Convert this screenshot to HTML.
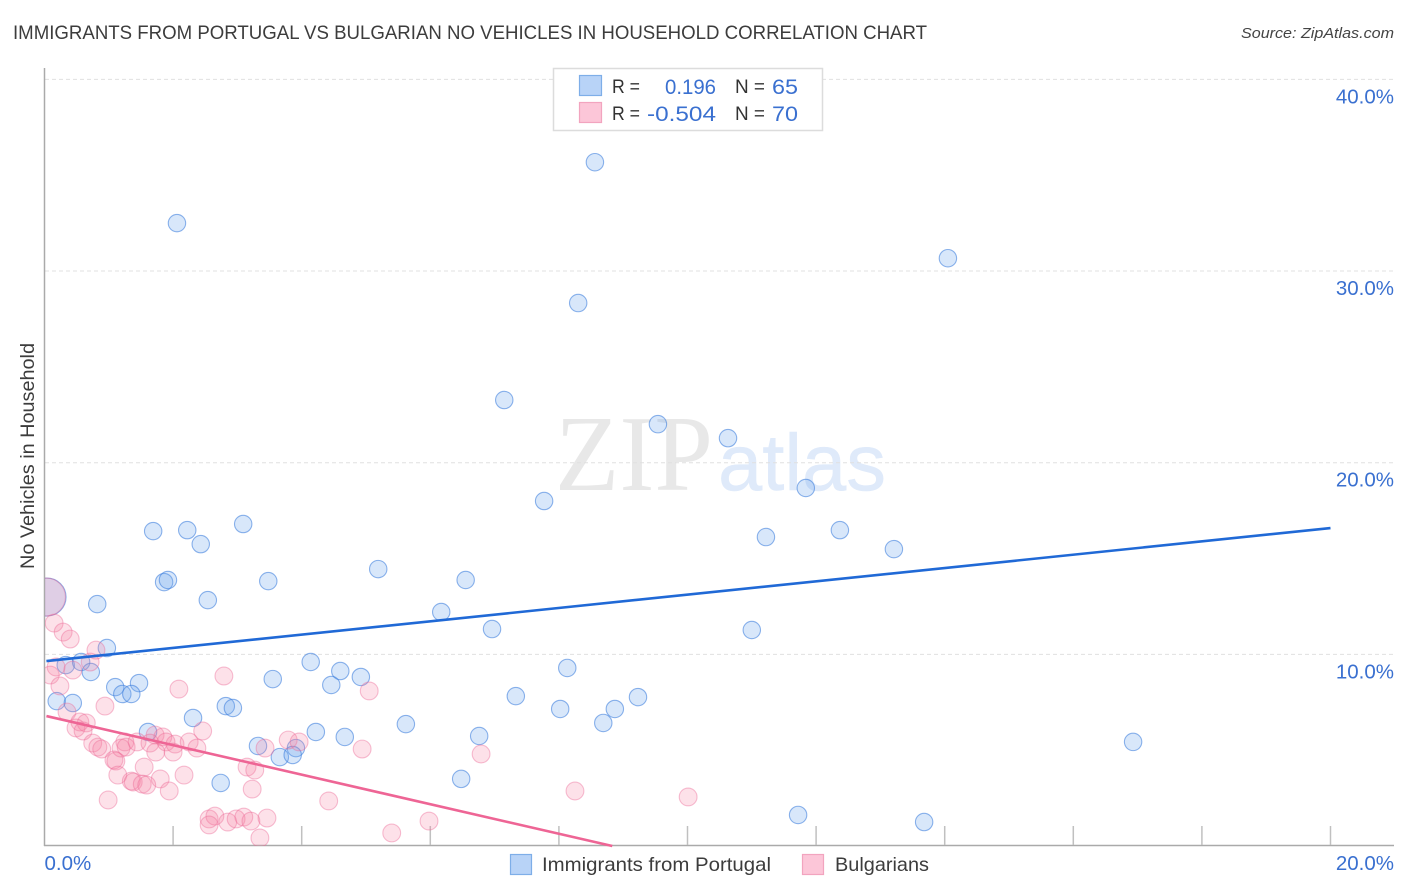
<!DOCTYPE html>
<html lang="en">
<head>
<meta charset="utf-8">
<title>Immigrants from Portugal vs Bulgarian No Vehicles in Household Correlation Chart</title>
<style>
html,body{margin:0;padding:0;background:#fff;width:1406px;height:892px;overflow:hidden}
svg{display:block;font-family:"Liberation Sans",sans-serif}
</style>
</head>
<body>
<svg id="chart" xmlns="http://www.w3.org/2000/svg" width="1406" height="892" viewBox="0 0 1406 892">
  <defs><clipPath id="plot-clip"><rect x="45" y="60" width="1350" height="786"/></clipPath></defs>
  <text x="13" y="39" font-size="19.5" fill="#3c3c3c" textLength="914" lengthAdjust="spacingAndGlyphs">IMMIGRANTS FROM PORTUGAL VS BULGARIAN NO VEHICLES IN HOUSEHOLD CORRELATION CHART</text>
  <text x="1241" y="38" font-size="15" font-style="italic" fill="#444" textLength="153" lengthAdjust="spacingAndGlyphs">Source: ZipAtlas.com</text>
  <g>
    <text x="555" y="490" font-family="'Liberation Serif',serif" font-size="108" fill="#e8e8e8" textLength="158" lengthAdjust="spacingAndGlyphs">ZIP</text>
    <text x="718" y="490" font-size="80" fill="#dfeafa" stroke="#dfeafa" stroke-width="0.5" textLength="168" lengthAdjust="spacingAndGlyphs">atlas</text>
  </g>
  <g id="grid"></g>
  <g id="axes"></g>
  <g id="marks" clip-path="url(#plot-clip)"></g>
  <g id="trends"></g>
  <g id="ylabels"></g>
  <g id="xlabels"></g>
  <text transform="translate(34,456) rotate(-90)" font-size="19" fill="#3c3c3c" text-anchor="middle" textLength="226" lengthAdjust="spacingAndGlyphs">No Vehicles in Household</text>

  <g>
    <rect x="553.5" y="68.5" width="269" height="62" fill="#fff" stroke="#dcdcdc" stroke-width="1.5"/>
    <rect x="579.5" y="75.5" width="22" height="20" fill="#b8d3f7" stroke="#7eaee8" stroke-width="1.2"/>
    <rect x="579.5" y="102.5" width="22" height="20" fill="#fcc6d8" stroke="#f2a4bf" stroke-width="1.2"/>
    <g font-size="19" fill="#333">
      <text x="612" y="93" textLength="28" lengthAdjust="spacingAndGlyphs">R =</text>
      <text x="612" y="120" textLength="28" lengthAdjust="spacingAndGlyphs">R =</text>
      <text x="735" y="93" textLength="30" lengthAdjust="spacingAndGlyphs">N =</text>
      <text x="735" y="120" textLength="30" lengthAdjust="spacingAndGlyphs">N =</text>
    </g>
    <g font-size="21" fill="#3a70d0">
      <text x="665" y="94" textLength="51" lengthAdjust="spacingAndGlyphs">0.196</text>
      <text x="647" y="121" textLength="69" lengthAdjust="spacingAndGlyphs">-0.504</text>
      <text x="772" y="94" textLength="26" lengthAdjust="spacingAndGlyphs">65</text>
      <text x="772" y="121" textLength="26" lengthAdjust="spacingAndGlyphs">70</text>
    </g>
  </g>

  <g>
    <rect x="510.5" y="854.5" width="21" height="20" fill="#b8d3f7" stroke="#7eaee8" stroke-width="1.2"/>
    <text x="542" y="871" font-size="19.5" fill="#3c3c3c" textLength="229" lengthAdjust="spacingAndGlyphs">Immigrants from Portugal</text>
    <rect x="802.5" y="854.5" width="21" height="20" fill="#fcc6d8" stroke="#f2a4bf" stroke-width="1.2"/>
    <text x="835" y="871" font-size="19.5" fill="#3c3c3c" textLength="94" lengthAdjust="spacingAndGlyphs">Bulgarians</text>
  </g>
</svg>
<script>
const xTickValues = [0, 2, 4, 6, 8, 10, 12, 14, 16, 18, 20];
const yTickValues = [10, 20, 30, 40];
const xEdgeLabels = [[0, "0.0%"], [20, "20.0%"]];
const yTickLabels = ["10.0%", "20.0%", "30.0%", "40.0%"];

const portugalX = [8.56,2.06,14.05,8.30,7.15,9.54,10.63,11.84,7.77,3.09,1.69,2.22,12.37,11.22,2.43,13.21,5.19,1.86,1.92,3.48,6.55,0.82,2.54,6.17,6.96,11.00,0.97,4.14,8.13,0.33,0.57,0.72,4.60,4.92,3.55,1.47,4.46,1.10,1.21,1.35,2.82,2.93,7.33,9.23,8.02,8.87,0.19,0.44,2.31,8.69,5.62,1.61,4.22,4.67,6.76,16.93,3.32,3.91,3.66,3.86,2.74,6.48,11.72,13.68,0.04];
const portugalY = [35.68,32.50,30.67,28.33,23.27,22.01,21.28,18.68,18.00,16.80,16.43,16.48,16.48,16.12,15.75,15.49,14.45,13.77,13.88,13.82,13.88,12.62,12.83,12.21,11.32,11.27,10.33,9.60,9.29,9.44,9.60,9.08,9.13,8.82,8.71,8.50,8.40,8.29,7.93,7.93,7.30,7.20,7.82,7.77,7.15,7.15,7.56,7.46,6.68,6.42,6.36,5.95,5.95,5.69,5.74,5.43,5.22,5.11,4.64,4.75,3.29,3.50,1.62,1.25,12.99];
const bulgarianX = [0.15,0.29,0.40,0.80,0.71,0.18,0.44,0.09,0.24,0.94,2.09,2.79,0.35,0.55,0.65,0.49,0.60,0.75,0.83,0.89,1.08,1.11,1.14,0.99,1.25,1.19,1.27,1.44,1.72,1.84,1.64,1.89,1.73,2.03,2.00,2.25,2.37,2.46,1.55,1.80,1.94,2.17,1.35,1.38,1.52,1.59,3.15,3.27,3.43,3.79,3.96,3.23,4.42,2.56,2.65,2.56,2.85,2.98,3.10,3.21,3.46,3.35,5.05,4.94,6.79,8.25,10.01,5.98,5.40,0.03];
const bulgarianY = [11.63,11.16,10.80,10.22,9.60,9.34,9.18,8.92,8.35,7.30,8.19,8.87,6.99,6.47,6.42,6.16,6.00,5.37,5.16,5.06,4.49,4.43,3.70,2.40,5.43,5.11,5.16,5.43,5.79,5.69,5.37,5.43,4.90,5.32,4.90,5.43,5.11,6.00,4.12,3.50,2.87,3.70,3.39,3.34,3.23,3.18,4.12,3.96,5.11,5.53,5.43,2.97,2.35,1.41,1.56,1.10,1.25,1.41,1.51,1.30,1.46,0.42,8.09,5.06,4.80,2.87,2.56,1.30,0.68,12.99];

const portugalTrendX = [0.03, 20];
const portugalTrendY = [9.65, 16.59];
const bulgarianTrendX = [0.03, 8.83];
const bulgarianTrendY = [6.78, 0];

const SVG_NS = "http://www.w3.org/2000/svg";
const xScale = v => 44.5 + v * 64.3;
const yScale = v => 846 - v * 19.165;

function make(tag, attrs, parent) {
  const el = document.createElementNS(SVG_NS, tag);
  Object.keys(attrs).forEach(k => el.setAttribute(k, attrs[k]));
  parent.appendChild(el);
  return el;
}

const gridGroup = document.getElementById("grid");
const axesGroup = document.getElementById("axes");
const marksGroup = document.getElementById("marks");
const trendsGroup = document.getElementById("trends");
const yLabelGroup = document.getElementById("ylabels");
const xLabelGroup = document.getElementById("xlabels");

yTickValues.forEach((v, i) => {
  const g = make("line", {x1: 45, x2: 1394, y1: yScale(v), y2: yScale(v), stroke: "#e0e0e0", "stroke-width": 1, "stroke-dasharray": "4 3"}, gridGroup);
  
  
  const t = make("text", {x: 1394, y: yScale(v) + 24, "text-anchor": "end", "font-size": 20.5, fill: "#3a70d0"}, yLabelGroup);
  t.textContent = yTickLabels[i];
  
  
});

const yAxisLine = make("line", {x1: 44.5, x2: 44.5, y1: 68, y2: 846, stroke: "#aaa", "stroke-width": 1.5}, axesGroup);


const xAxisLine = make("line", {x1: 44, x2: 1394, y1: 845.5, y2: 845.5, stroke: "#aaa", "stroke-width": 1.5}, axesGroup);



xTickValues.slice(1).forEach(v => {
  const tick = make("line", {x1: xScale(v), x2: xScale(v), y1: 826, y2: 845, stroke: "#c0c0c0", "stroke-width": 1.5}, axesGroup);
  
  
});

xEdgeLabels.forEach(pair => {
  const isFirst = pair[0] === 0;
  const t = make("text", {x: isFirst ? xScale(pair[0]) : 1394, y: 870, "text-anchor": isFirst ? "start" : "end", "font-size": 20.5, fill: "#3a70d0"}, xLabelGroup);
  t.textContent = pair[1];
  
  
});

function drawPoints(xs, ys, fill, stroke, radius, bigRadius, seriesName) {
  xs.forEach((x, i) => {
    const isAggregate = i === xs.length - 1;
    const c = make("circle", {
      cx: xScale(x), cy: yScale(ys[i]),
      r: isAggregate ? bigRadius : radius,
      fill: fill, stroke: stroke, "stroke-width": 1.1
    }, marksGroup);
    
    
  });
}
drawPoints(portugalX, portugalY, "rgba(110,165,235,0.27)", "rgba(60,125,220,0.58)", 8.7, 19, "point-portugal");
drawPoints(bulgarianX, bulgarianY, "rgba(245,130,165,0.24)", "rgba(235,105,150,0.42)", 8.9, 19, "point-bulgarian");

const portugalLine = make("line", {x1: xScale(portugalTrendX[0]), y1: yScale(portugalTrendY[0]), x2: xScale(portugalTrendX[1]), y2: yScale(portugalTrendY[1]), stroke: "#2069d6", "stroke-width": 2.6}, trendsGroup);


const bulgarianLine = make("line", {x1: xScale(bulgarianTrendX[0]), y1: yScale(bulgarianTrendY[0]), x2: xScale(bulgarianTrendX[1]), y2: yScale(bulgarianTrendY[1]), stroke: "#ee6595", "stroke-width": 2.6}, trendsGroup);


</script>
</body>
</html>
